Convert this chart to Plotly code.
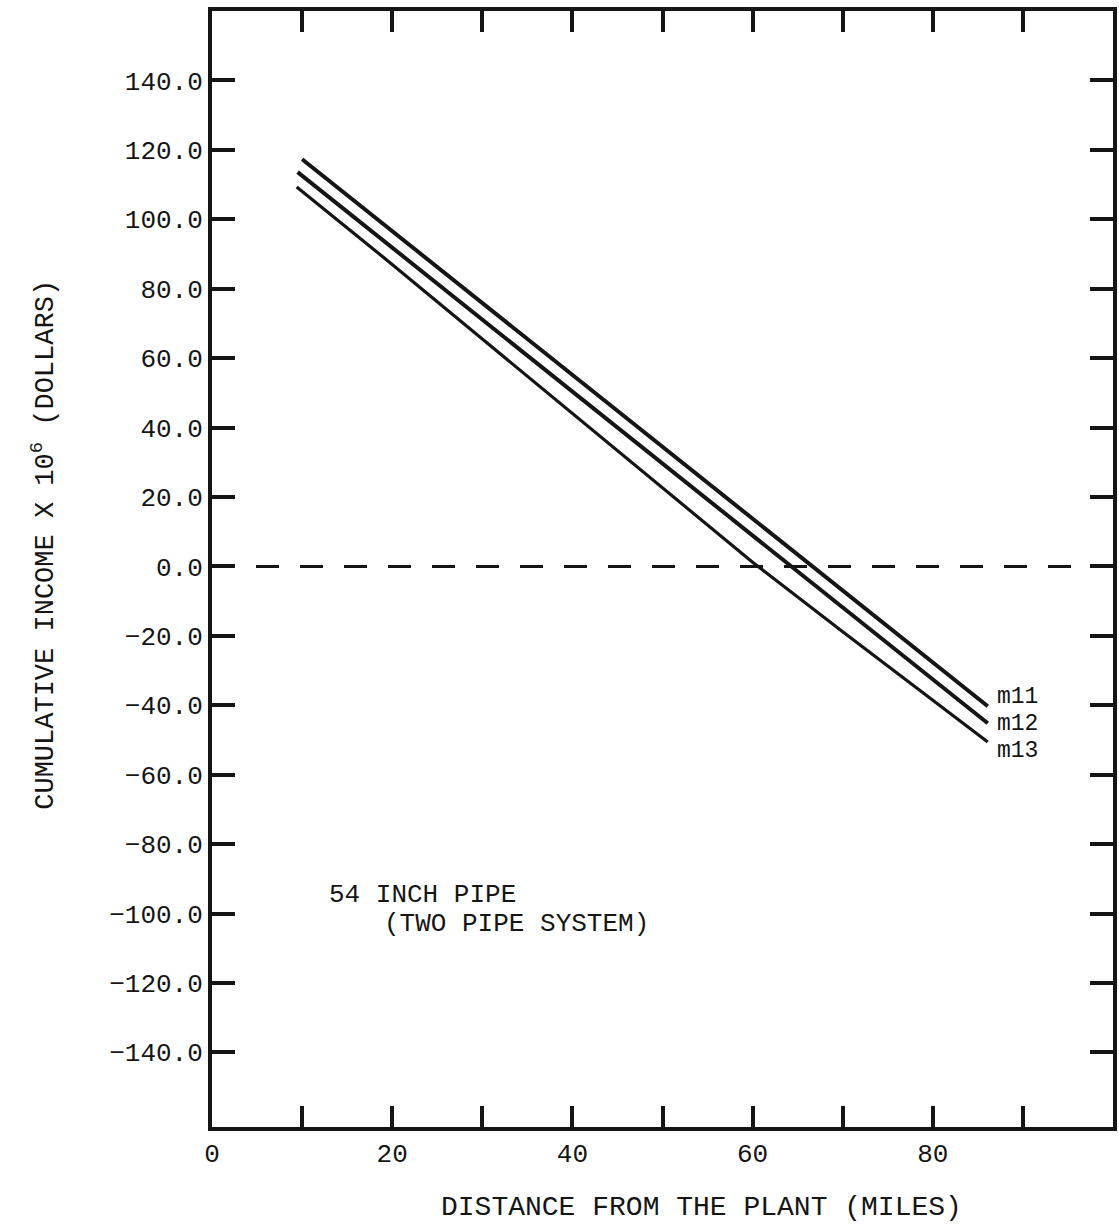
import plotly.graph_objects as go

# Data
distance_m11 = [10.0, 20, 30, 40, 50, 60, 70, 80, 86.1]
income_m11 = [117.3, 96.6, 75.8, 55.1, 34.4, 13.6, -7.1, -27.8, -40.3]

distance_m12 = [9.5, 20, 30, 40, 50, 60, 70, 80, 86.1]
income_m12 = [113.6, 91.8, 71.1, 50.4, 29.7, 9.0, -11.8, -32.5, -45.2]

distance_m13 = [9.4, 20, 30, 40, 50, 60, 70, 80, 86.1]
income_m13 = [109.3, 87.0, 65.5, 44.0, 22.5, 1.2, -18.8, -38.6, -50.6]

zero_x = [0, 100]
zero_y = [0, 0]

series_names = ["m11", "m12", "m13"]
label_y = [-37.6, -45.4, -53.2]

x_major_ticks = [0, 20, 40, 60, 80]
x_minor_ticks = [10, 30, 50, 70, 90]
y_tickvals = [-140, -120, -100, -80, -60, -40, -20, 0, 20, 40, 60, 80, 100, 120, 140]

FONT = "Liberation Mono, Courier New, monospace"
INK = "#151515"

fig = go.Figure()

fig.add_trace(go.Scatter(x=zero_x, y=zero_y, mode="lines",
                         line=dict(color=INK, width=3, dash="23px,21px"),
                         showlegend=False, hoverinfo="skip"))

for xs, ys, w in [(distance_m11, income_m11, 4), (distance_m12, income_m12, 4),
                  (distance_m13, income_m13, 3.2)]:
    fig.add_trace(go.Scatter(x=xs, y=ys, mode="lines",
                             line=dict(color=INK, width=w), showlegend=False))

for name, ly in zip(series_names, label_y):
    fig.add_annotation(x=87.0, y=ly, text=name, showarrow=False, xanchor="left",
                       yanchor="middle", borderpad=0,
                       font=dict(family=FONT, size=23, color=INK))

fig.add_annotation(x=12.8, y=-94.8, text="54 INCH PIPE", showarrow=False,
                   xanchor="left", yanchor="middle",
                   font=dict(family=FONT, size=26, color=INK))
fig.add_annotation(x=18.9, y=-102.9, text="(TWO PIPE SYSTEM)", showarrow=False,
                   xanchor="left", yanchor="middle",
                   font=dict(family=FONT, size=26, color=INK))

fig.add_annotation(xref="paper", yref="paper", x=(704 - 212) / (1117 - 212),
                   y=-(1207 - 1127) / (1127 - 11), text="DISTANCE FROM THE PLANT (MILES)",
                   showarrow=False, xanchor="center", yanchor="middle",
                   font=dict(family=FONT, size=28, color=INK))
fig.add_annotation(xref="paper", yref="paper", x=-(212 - 42) / (1117 - 212),
                   y=(1127 - 545) / (1127 - 11),
                   text="CUMULATIVE INCOME X 10<sup>6</sup> (DOLLARS)",
                   textangle=-90, showarrow=False, xanchor="center", yanchor="middle",
                   font=dict(family=FONT, size=27, color=INK))

fig.update_xaxes(range=[0, 100], tickvals=x_major_ticks,
                 ticks="inside", ticklen=21, tickwidth=3.5, tickcolor=INK,
                 minor=dict(tickvals=x_minor_ticks, ticks="inside", ticklen=21,
                            tickwidth=3.5, tickcolor=INK, showgrid=False),
                 showline=True, linewidth=4, linecolor=INK, mirror="ticks",
                 showgrid=False, zeroline=False,
                 tickfont=dict(family=FONT, size=26, color=INK))
fig.update_yaxes(range=[-161.5, 160], tickvals=y_tickvals, tickformat=".1f",
                 ticks="inside", ticklen=23, tickwidth=3.5, tickcolor=INK,
                 showline=True, linewidth=4, linecolor=INK, mirror="ticks",
                 showgrid=False, zeroline=False, ticklabelstandoff=0,
                 tickfont=dict(family=FONT, size=26, color=INK))

fig.update_layout(width=1119, height=1224,
                  margin=dict(l=212, r=2, t=11, b=97),
                  paper_bgcolor="white", plot_bgcolor="white")

fig.write_html("out.html")
